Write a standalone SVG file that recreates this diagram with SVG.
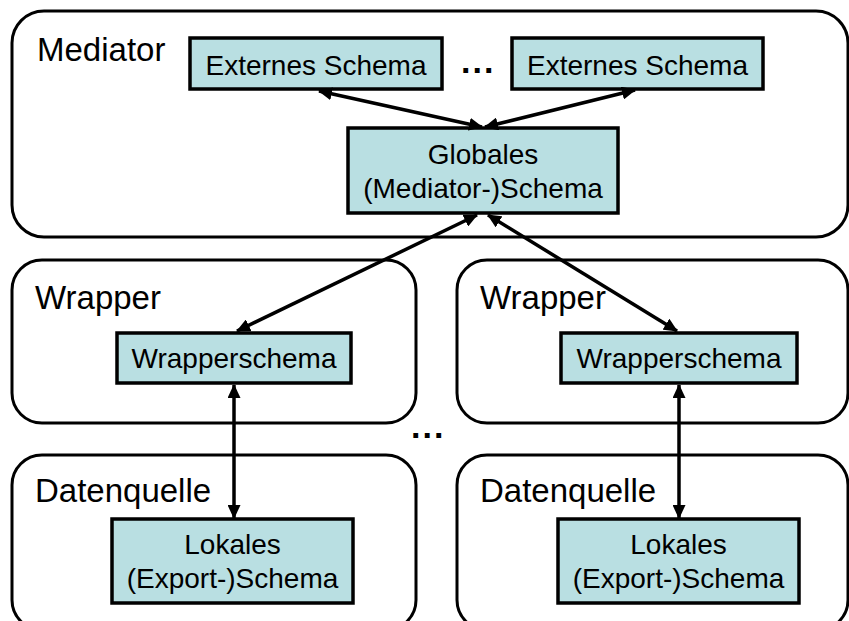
<svg xmlns="http://www.w3.org/2000/svg" width="849" height="621" viewBox="0 0 849 621">
<defs>
<style>
.grp{fill:#fff;stroke:#000;stroke-width:3}
.node{fill:#b9dfe2;stroke:#000;stroke-width:3.5}
.lbl{font-family:"Liberation Sans",Arial,sans-serif;font-size:33px;fill:#000}
.txt{font-family:"Liberation Sans",Arial,sans-serif;font-size:28px;fill:#000;text-anchor:middle}
.dots{font-family:"Liberation Sans",Arial,sans-serif;font-size:34px;font-weight:bold;letter-spacing:2px;fill:#000}
.con{stroke:#000;stroke-width:3.5;fill:none;marker-start:url(#ah);marker-end:url(#ah)}
</style>
<marker id="ah" markerUnits="userSpaceOnUse" markerWidth="14" markerHeight="13" refX="13" refY="6.5" orient="auto-start-reverse" viewBox="0 0 14 13">
<path d="M0,0 L14,6.5 L0,13 Z" fill="#000"/>
</marker>
</defs>
<rect width="849" height="621" fill="#fff"/>
<g id="mediator">
<rect class="grp" x="12" y="11" width="836" height="226" rx="32"/>
<text class="lbl" x="37" y="61">Mediator</text>
</g>
<g id="wrapper1">
<rect class="grp" x="12" y="260" width="404" height="163" rx="30"/>
<text class="lbl" x="35" y="309">Wrapper</text>
</g>
<g id="wrapper2">
<rect class="grp" x="457" y="260" width="391" height="163" rx="30"/>
<text class="lbl" x="480" y="309">Wrapper</text>
</g>
<g id="quelle1">
<rect class="grp" x="12" y="455" width="404" height="175" rx="30"/>
<text class="lbl" x="35" y="502">Datenquelle</text>
</g>
<g id="quelle2">
<rect class="grp" x="457" y="455" width="391" height="175" rx="30"/>
<text class="lbl" x="480" y="502">Datenquelle</text>
</g>
<g id="ext1">
<rect class="node" x="190" y="38" width="252" height="51"/>
<text class="txt" x="316" y="75">Externes Schema</text>
</g>
<g id="ext2">
<rect class="node" x="512" y="38" width="251" height="51"/>
<text class="txt" x="637.5" y="75">Externes Schema</text>
</g>
<g id="dots-top"><text class="dots" x="461" y="73">...</text></g>
<g id="global">
<rect class="node" x="348" y="128" width="270" height="85"/>
<text class="txt" x="483" y="164">Globales</text>
<text class="txt" x="483" y="198">(Mediator-)Schema</text>
</g>
<g id="ws1">
<rect class="node" x="117" y="333" width="234" height="50"/>
<text class="txt" x="234" y="368">Wrapperschema</text>
</g>
<g id="ws2">
<rect class="node" x="561" y="333" width="236" height="50"/>
<text class="txt" x="679" y="368">Wrapperschema</text>
</g>
<g id="dots-mid"><text class="dots" x="411" y="438">...</text></g>
<g id="lok1">
<rect class="node" x="112" y="519" width="241" height="84"/>
<text class="txt" x="232.5" y="554">Lokales</text>
<text class="txt" x="232.5" y="588">(Export-)Schema</text>
</g>
<g id="lok2">
<rect class="node" x="558" y="519" width="241" height="84"/>
<text class="txt" x="678.5" y="554">Lokales</text>
<text class="txt" x="678.5" y="588">(Export-)Schema</text>
</g>
<g id="connectors">
<line class="con" x1="482" y1="127" x2="319" y2="91"/>
<line class="con" x1="485" y1="127" x2="635" y2="90"/>
<line class="con" x1="477" y1="215" x2="237" y2="331"/>
<line class="con" x1="488" y1="215" x2="677" y2="331"/>
<line class="con" x1="234" y1="385" x2="234" y2="518"/>
<line class="con" x1="679" y1="385" x2="679" y2="518"/>
</g>
</svg>
